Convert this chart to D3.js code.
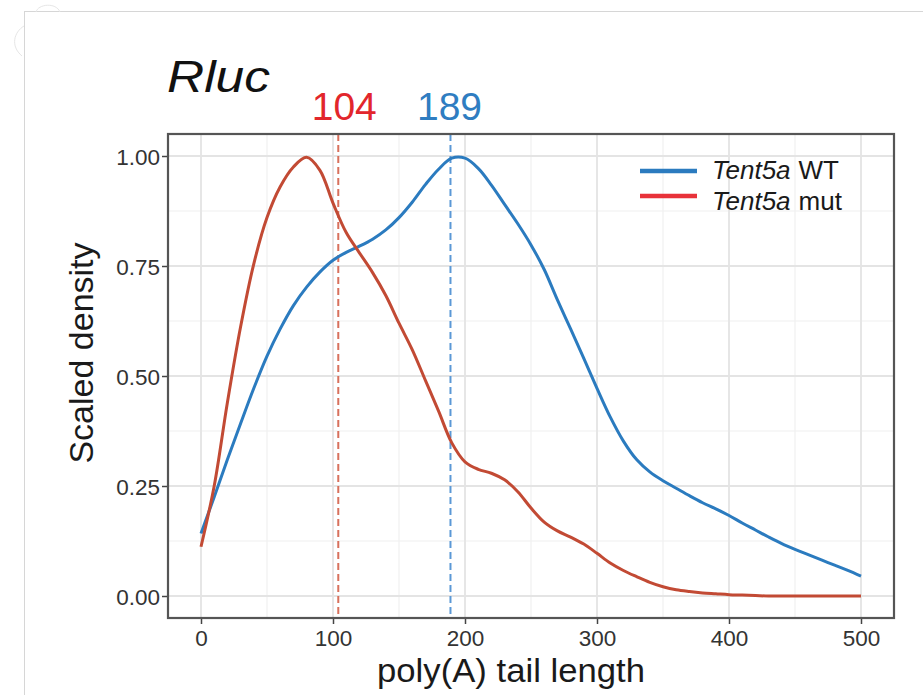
<!DOCTYPE html>
<html>
<head>
<meta charset="utf-8">
<script src="https://cdn.jsdelivr.net/npm/d3@7"></script>
<style>
  html, body { margin: 0; padding: 0; background: #fff; }
  svg { display: block; }
  text { font-family: "Liberation Sans", Arial, sans-serif; }
</style>
</head>
<body>
<svg id="chart" width="923" height="695"></svg>
<script>
// ---- data ----
const tailLength = d3.range(0, 501, 10);
const wtDensity = [
  0.142, 0.225, 0.31, 0.392, 0.472, 0.545, 0.607, 0.66, 0.702, 0.736,
  0.763, 0.781, 0.795, 0.811, 0.832, 0.86, 0.895, 0.935, 0.97, 0.995,
  0.995, 0.972, 0.934, 0.89, 0.846, 0.798, 0.742, 0.673, 0.607, 0.54,
  0.472, 0.407, 0.352, 0.31, 0.282, 0.262, 0.245, 0.228, 0.212, 0.198,
  0.183, 0.166, 0.15, 0.134, 0.119, 0.106, 0.094, 0.082, 0.07, 0.058,
  0.045
];
const mutDensity = [
  0.112, 0.25, 0.44, 0.612, 0.755, 0.86, 0.93, 0.975, 0.997, 0.968,
  0.893, 0.826, 0.78, 0.735, 0.683, 0.62, 0.56, 0.49, 0.42, 0.348,
  0.305, 0.288, 0.279, 0.264, 0.237, 0.2, 0.168, 0.148, 0.134, 0.118,
  0.097, 0.075, 0.058, 0.044, 0.031, 0.021, 0.014, 0.01, 0.007, 0.005,
  0.003, 0.002, 0.001, 0, 0, 0, 0, 0, 0, 0,
  0
];
const medians = [104, 189];
const seriesNames = ["WT", "mut"];
const geneName = "Tent5a";
const xTicks = [0, 100, 200, 300, 400, 500];
const yTicks = [0, 0.25, 0.5, 0.75, 1.0];
const xMinor = [50, 150, 250, 350, 450];
const yMinor = [0.125, 0.375, 0.625, 0.875];

const svg = d3.select("#chart");

// page frame (screenshot border)
svg.append("line").attr("x1", 24).attr("x2", 923).attr("y1", 11.5).attr("y2", 11.5)
  .attr("stroke", "#d6d6d6").attr("stroke-width", 1);
svg.append("line").attr("x1", 24.5).attr("x2", 24.5).attr("y1", 11).attr("y2", 695)
  .attr("stroke", "#d6d6d6").attr("stroke-width", 1);
svg.append("path")
  .attr("d", "M36,12 C38,4 56,2 60,12 M24,26 C14,32 10,46 22,56")
  .attr("fill", "none").attr("stroke", "#e6e6e6").attr("stroke-width", 1);

const panel = { left: 168, right: 894, top: 134, bottom: 618 };
const x = d3.scaleLinear().domain([-25, 525]).range([panel.left, panel.right]);
const y = d3.scaleLinear().domain([-0.05, 1.05]).range([panel.bottom, panel.top]);

const g = svg.append("g");

// minor grid
g.selectAll(".xminor").data(xMinor).join("line")
  .attr("x1", d => x(d)).attr("x2", d => x(d))
  .attr("y1", panel.top).attr("y2", panel.bottom)
  .attr("stroke", "#f0f0f0").attr("stroke-width", 1.2);
g.selectAll(".yminor").data(yMinor).join("line")
  .attr("x1", panel.left).attr("x2", panel.right)
  .attr("y1", d => y(d)).attr("y2", d => y(d))
  .attr("stroke", "#f0f0f0").attr("stroke-width", 1.2);
// major grid
g.selectAll(".xmajor").data(xTicks).join("line")
  .attr("x1", d => x(d)).attr("x2", d => x(d))
  .attr("y1", panel.top).attr("y2", panel.bottom)
  .attr("stroke", "#e4e4e4").attr("stroke-width", 1.8);
g.selectAll(".ymajor").data(yTicks).join("line")
  .attr("x1", panel.left).attr("x2", panel.right)
  .attr("y1", d => y(d)).attr("y2", d => y(d))
  .attr("stroke", "#e4e4e4").attr("stroke-width", 1.8);

// median dashed lines
const medColors = ["#d8705c", "#5b98d6"];
g.selectAll(".median").data(medians).join("line")
  .attr("x1", d => x(d)).attr("x2", d => x(d))
  .attr("y1", panel.top).attr("y2", panel.bottom)
  .attr("stroke", (d, i) => medColors[i]).attr("stroke-width", 2)
  .attr("stroke-dasharray", "7,4");

// curves
const line = d3.line()
  .x((d, i) => x(tailLength[i]))
  .y(d => y(d))
  .curve(d3.curveCatmullRom.alpha(0.5));
g.append("path").datum(wtDensity).attr("d", line)
  .attr("fill", "none").attr("stroke", "#2b7bbf").attr("stroke-width", 3);
g.append("path").datum(mutDensity).attr("d", line)
  .attr("fill", "none").attr("stroke", "#c24a34").attr("stroke-width", 3);

// panel border
g.append("rect").attr("x", panel.left).attr("y", panel.top)
  .attr("width", panel.right - panel.left).attr("height", panel.bottom - panel.top)
  .attr("fill", "none").attr("stroke", "#555").attr("stroke-width", 2.2);

// axes
const xAxis = d3.axisBottom(x).tickValues(xTicks).tickSize(5).tickPadding(4).tickFormat(d3.format("d"));
const yAxis = d3.axisLeft(y).tickValues(yTicks).tickSize(5).tickPadding(2).tickFormat(d3.format(".2f"));
const gx = svg.append("g").attr("transform", `translate(0,${panel.bottom + 1})`).call(xAxis);
const gy = svg.append("g").attr("transform", `translate(${panel.left - 1},0)`).call(yAxis);
[gx, gy].forEach(a => {
  a.select(".domain").remove();
  a.selectAll(".tick line").attr("stroke", "#444").attr("stroke-width", 1.5);
  a.selectAll(".tick text").attr("fill", "#333").style("font-size", "22.5px")
    .style("font-family", "'Liberation Sans', Arial, sans-serif");
});
gx.selectAll(".tick text").attr("dy", "0.8em");
gy.selectAll(".tick text").attr("dy", "0.36em");

// axis titles
svg.append("text").attr("x", 511).attr("y", 682).attr("text-anchor", "middle")
  .style("font-size", "33px").attr("textLength", 268).attr("lengthAdjust", "spacingAndGlyphs")
  .attr("fill", "#1a1a1a").text("poly(A) tail length");
svg.append("text").attr("transform", "translate(93,353) rotate(-90)").attr("text-anchor", "middle")
  .style("font-size", "34px").attr("fill", "#1a1a1a").text("Scaled density");

// title
svg.append("text").attr("x", 167).attr("y", 92)
  .style("font-size", "44px").style("font-style", "italic").attr("fill", "#111")
  .attr("textLength", 103).attr("lengthAdjust", "spacingAndGlyphs").text("Rluc");

// median labels
const medTextColors = ["#e2262c", "#2f7dc1"];
svg.selectAll(".medlab").data(medians).join("text")
  .attr("x", (d, i) => x(d) + (i === 0 ? 6 : -1)).attr("y", 120)
  .attr("text-anchor", "middle").style("font-size", "39px")
  .attr("fill", (d, i) => medTextColors[i]).text(d => d);

// legend
const legColors = ["#2b7bbf", "#e8323a"];
const leg = svg.append("g");
seriesNames.forEach((s, i) => {
  const yy = 171 + i * 25;
  const ty = 179 + i * 31;
  leg.append("line").attr("x1", 640).attr("x2", 697).attr("y1", yy).attr("y2", yy)
    .attr("stroke", legColors[i]).attr("stroke-width", 4.5);
  const t1 = leg.append("text").attr("x", 712).attr("y", ty).style("font-size", "26px")
    .style("font-style", "italic").attr("fill", "#1a1a1a").text(geneName);
  const w = t1.node().getComputedTextLength();
  leg.append("text").attr("x", 712 + w + 8).attr("y", ty).style("font-size", "26px")
    .attr("fill", "#1a1a1a").text(s);
});
</script>
</body>
</html>
